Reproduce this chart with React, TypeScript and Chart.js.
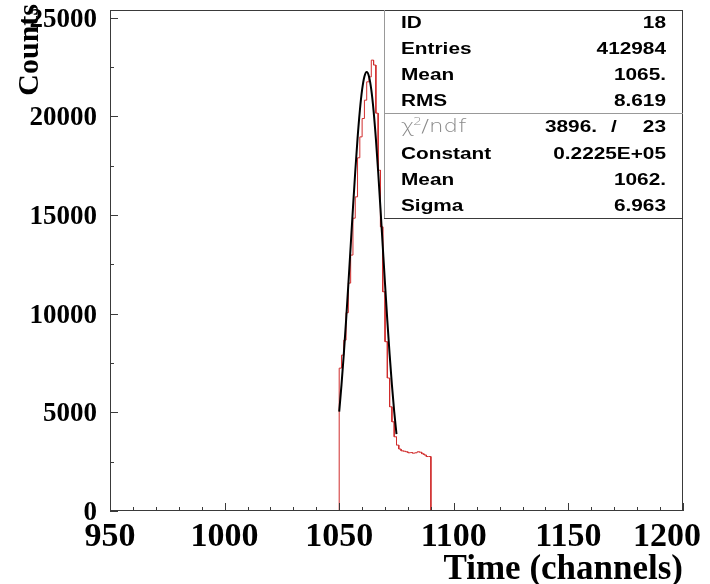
import React, { useEffect, useRef } from "react";
import { Chart, registerables } from "chart.js";

Chart.register(...registerables);

// ---- axis ranges & tick labels ----
const X_MIN = 950;
const X_MAX = 1200;
const Y_MIN = 0;
const Y_MAX = 25390;
const xTickValues = [950, 1000, 1050, 1100, 1150, 1200];
const yTickValues = [0, 5000, 10000, 15000, 20000, 25000];
const X_STEP = 50;
const Y_STEP = 5000;
const X_MINOR = 10;
const Y_MINOR = 2500;

// ---- histogram (channel bins of width 1 starting at 1050) ----
const binLow = 1050;
const binWidth = 1;
const counts = [
  7240, 7900, 8660, 10050, 11550, 12970, 14840, 15920, 17900, 18960,
  19890, 20820, 21750, 22000, 22850, 22600, 20160, 17270, 14400, 11110,
  8580, 6740, 5280, 4520, 3760, 3340, 3140, 3050, 3030, 3000,
  2950, 2960, 2930, 2950, 3000, 2980, 2900, 2840, 2760, 2760,
];

// ---- gaussian fit curve ----
const fitX = [
  1050, 1051, 1052, 1053, 1054, 1055, 1056, 1057, 1058, 1059, 1060, 1061, 1062,
  1063, 1064, 1065, 1066, 1067, 1068, 1069, 1070, 1071, 1072, 1073, 1074, 1075,
];
const fitY = [
  5040, 6390, 7935, 9650, 11500, 13420, 15350, 17190, 18870, 20280, 21350, 22020, 22250,
  22020, 21350, 20280, 18870, 17190, 15350, 13420, 11500, 9650, 7935, 6390, 5040, 3895,
];

// ---- statistics box ----
const statLabels = ["ID", "Entries", "Mean", "RMS"];
const statValues = ["18", "412984", "1065.", "8.619"];
const chi2Value = "3896.";
const ndfValue = "23";
const fitLabels = ["Constant", "Mean", "Sigma"];
const fitValues = ["0.2225E+05", "1062.", "6.963"];

const xTitle = "Time (channels)";
const yTitle = "Counts";

const RED = "#d02c2c";
const FRAME = "#3a3a3a";
const SERIF = '"Liberation Serif", "Times New Roman", serif';

const overlay = {
  id: "pawOverlay",
  afterDraw(chart: any) {
    const ctx: CanvasRenderingContext2D = chart.ctx;
    const a = chart.chartArea;
    const xs = chart.scales.x;
    const ys = chart.scales.y;
    ctx.save();

    // frame
    ctx.strokeStyle = FRAME;
    ctx.lineWidth = 1;
    ctx.strokeRect(a.left + 0.5, a.top + 0.5, a.right - a.left - 1, a.bottom - a.top - 1);

    // tick marks (inward)
    ctx.beginPath();
    for (let v = X_MIN; v <= X_MAX; v += X_MINOR) {
      const px = Math.round(xs.getPixelForValue(v)) + 0.5;
      const len = v % X_STEP === 0 ? 8 : 4;
      ctx.moveTo(px, a.bottom);
      ctx.lineTo(px, a.bottom - len);
    }
    for (let v = Y_MIN; v <= Y_MAX; v += Y_MINOR) {
      const py = Math.round(ys.getPixelForValue(v)) + 0.5;
      const len = v % Y_STEP === 0 ? 8 : 4;
      ctx.moveTo(a.left, py);
      ctx.lineTo(a.left + len, py);
    }
    ctx.stroke();

    // tick labels
    ctx.fillStyle = "#000";
    ctx.textBaseline = "alphabetic";
    ctx.font = "bold 34px " + SERIF;
    ctx.textAlign = "center";
    for (const v of xTickValues) {
      const txt = String(v);
      const half = ctx.measureText(txt).width / 2;
      let cx = xs.getPixelForValue(v);
      if (cx + half > 701) cx = 701 - half;
      ctx.fillText(txt, cx, 546);
    }
    ctx.font = "bold 27px " + SERIF;
    ctx.textAlign = "right";
    for (const v of yTickValues) {
      ctx.fillText(String(v), 97, ys.getPixelForValue(v) + 9);
    }

    // axis titles
    ctx.font = "bold 35px " + SERIF;
    ctx.textAlign = "right";
    ctx.fillText(xTitle, a.right, 579);
    ctx.save();
    ctx.font = "bold 30px " + SERIF;
    ctx.translate(38, 4);
    ctx.rotate(-Math.PI / 2);
    ctx.textAlign = "right";
    ctx.fillText(yTitle, 0, 0);
    ctx.restore();

    // stats box
    const bx0 = 384, bx1 = a.right, by0 = a.top, by1 = 218, divY = 113;
    ctx.fillStyle = "#fff";
    ctx.fillRect(bx0, by0 + 1, bx1 - bx0 - 1, by1 - by0 - 1);
    ctx.lineWidth = 1;
    ctx.strokeStyle = "#999";
    ctx.beginPath();
    ctx.moveTo(bx0 + 0.5, by0);
    ctx.lineTo(bx0 + 0.5, by1);
    ctx.moveTo(bx0, divY + 0.5);
    ctx.lineTo(bx1, divY + 0.5);
    ctx.stroke();
    ctx.strokeStyle = FRAME;
    ctx.beginPath();
    ctx.moveTo(bx0, by1 + 0.5);
    ctx.lineTo(bx1, by1 + 0.5);
    ctx.stroke();

    const rowY = (i: number) => 28 + i * 26.1;
    const drawStretched = (txt: string, x: number, y: number, align: CanvasTextAlign) => {
      ctx.save();
      ctx.translate(x, y);
      ctx.scale(1.3, 1);
      ctx.textAlign = align;
      ctx.fillText(txt, 0, 0);
      ctx.restore();
    };
    const labX = 401;
    const valX = 666;
    ctx.fillStyle = "#000";
    ctx.font = 'bold 16px "Liberation Sans", Arial, sans-serif';
    statLabels.forEach((l, i) => {
      drawStretched(l, labX, rowY(i), "left");
      drawStretched(statValues[i], valX, rowY(i), "right");
    });
    // chi2 row
    const cy = rowY(4);
    drawStretched(chi2Value, 597, cy, "right");
    drawStretched("/", 614, cy, "center");
    drawStretched(ndfValue, valX, cy, "right");
    ctx.fillStyle = "#8a8a8a";
    ctx.save();
    ctx.translate(labX, cy);
    ctx.scale(1.35, 1);
    ctx.textAlign = "left";
    ctx.font = '200 17px "DejaVu Sans", sans-serif';
    ctx.fillText("\u03C7", 0, 0);
    const w = ctx.measureText("\u03C7").width;
    ctx.font = '200 10px "DejaVu Sans", sans-serif';
    ctx.fillText("2", w - 1, -7);
    ctx.font = '200 17px "DejaVu Sans", sans-serif';
    ctx.fillText("/ndf", w + 5, 0);
    ctx.restore();
    ctx.fillStyle = "#000";
    ctx.font = 'bold 16px "Liberation Sans", Arial, sans-serif';
    fitLabels.forEach((l, i) => {
      drawStretched(l, labX, rowY(5 + i), "left");
      drawStretched(fitValues[i], valX, rowY(5 + i), "right");
    });

    ctx.restore();
  },
};

export default function App() {
  const ref = useRef<HTMLCanvasElement>(null);

  useEffect(() => {
    if (!ref.current) return;
    const histPts: { x: number; y: number }[] = [{ x: binLow, y: 0 }];
    counts.forEach((c, i) => {
      const x0 = binLow + i * binWidth;
      histPts.push({ x: x0, y: c }, { x: x0 + binWidth, y: c });
    });
    histPts.push({ x: binLow + counts.length * binWidth, y: 0 });
    const fitPts = fitX.map((x, i) => ({ x, y: fitY[i] }));

    const chart = new Chart(ref.current, {
      type: "line",
      data: {
        datasets: [
          {
            data: fitPts,
            borderColor: "#000",
            borderWidth: 2,
            pointRadius: 0,
            cubicInterpolationMode: "monotone",
            order: 0,
          },
          {
            data: histPts,
            borderColor: RED,
            borderWidth: 1,
            pointRadius: 0,
            tension: 0,
            order: 1,
          },
        ],
      },
      options: {
        responsive: false,
        animation: false,
        devicePixelRatio: 1,
        layout: { padding: { left: 0, top: 10, right: 27, bottom: 0 } },
        plugins: { legend: { display: false }, tooltip: { enabled: false } },
        events: [],
        scales: {
          x: {
            type: "linear",
            min: X_MIN,
            max: X_MAX,
            ticks: { display: false },
            grid: { display: false },
            border: { display: false },
            afterFit: (s: any) => {
              s.height = 73;
            },
          },
          y: {
            type: "linear",
            min: Y_MIN,
            max: Y_MAX,
            ticks: { display: false },
            grid: { display: false },
            border: { display: false },
            afterFit: (s: any) => {
              s.width = 110;
            },
          },
        },
      } as any,
      plugins: [overlay],
    });
    return () => chart.destroy();
  }, []);

  return (
    <div style={{ position: "fixed", left: 0, top: 0, width: 710, height: 584, background: "#fff" }}>
      <canvas ref={ref} width={710} height={584} style={{ display: "block" }} />
    </div>
  );
}
